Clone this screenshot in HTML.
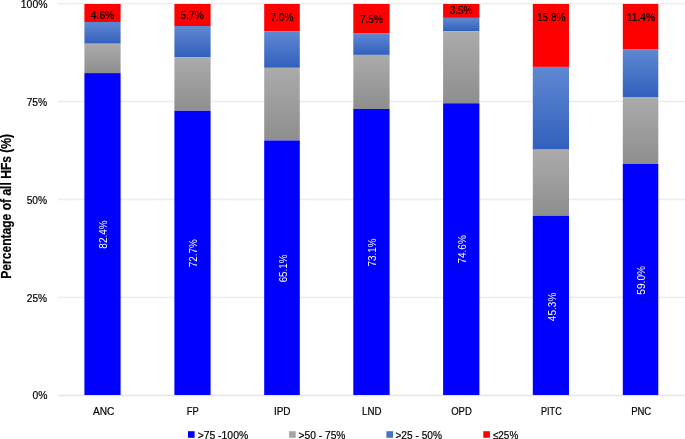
<!DOCTYPE html>
<html><head><meta charset="utf-8"><style>
html,body{margin:0;padding:0;background:#fff;width:685px;height:439px;overflow:hidden}
svg{display:block;will-change:transform}
text{font-family:"Liberation Sans",sans-serif}
</style></head><body>
<svg width="685" height="439" viewBox="0 0 685 439">
<defs>
<linearGradient id="gg" x1="0" y1="0" x2="0" y2="1"><stop offset="0" stop-color="#ababab"/><stop offset="1" stop-color="#8e8e8e"/></linearGradient>
<linearGradient id="bg" x1="0" y1="0" x2="0" y2="1"><stop offset="0" stop-color="#6088d2"/><stop offset="1" stop-color="#3160bd"/></linearGradient>
</defs>
<rect width="685" height="439" fill="#fff"/>
<rect x="57.9" y="2.95" width="627.1" height="1.5" fill="#eaebf0"/>
<rect x="57.9" y="100.70" width="627.1" height="1.5" fill="#eaebf0"/>
<rect x="57.9" y="198.70" width="627.1" height="1.5" fill="#eaebf0"/>
<rect x="57.9" y="296.70" width="627.1" height="1.5" fill="#eaebf0"/>
<rect x="57.9" y="394.75" width="627.1" height="1.5" fill="#e2e4e8"/>
<rect x="84.40" y="4.0" width="36.20" height="18.00" fill="#ff0000"/>
<rect x="84.40" y="22.0" width="36.20" height="21.70" fill="url(#bg)"/>
<rect x="84.40" y="43.7" width="36.20" height="29.40" fill="url(#gg)"/>
<rect x="84.40" y="73.1" width="36.20" height="321.90" fill="#0000ff"/>
<rect x="174.40" y="4.0" width="36.20" height="22.00" fill="#ff0000"/>
<rect x="174.40" y="26.0" width="36.20" height="31.10" fill="url(#bg)"/>
<rect x="174.40" y="57.1" width="36.20" height="53.70" fill="url(#gg)"/>
<rect x="174.40" y="110.8" width="36.20" height="284.20" fill="#0000ff"/>
<rect x="264.20" y="4.0" width="35.60" height="27.30" fill="#ff0000"/>
<rect x="264.20" y="31.3" width="35.60" height="36.50" fill="url(#bg)"/>
<rect x="264.20" y="67.8" width="35.60" height="72.70" fill="url(#gg)"/>
<rect x="264.20" y="140.5" width="35.60" height="254.50" fill="#0000ff"/>
<rect x="353.30" y="4.0" width="36.30" height="29.10" fill="#ff0000"/>
<rect x="353.30" y="33.1" width="36.30" height="21.80" fill="url(#bg)"/>
<rect x="353.30" y="54.9" width="36.30" height="54.10" fill="url(#gg)"/>
<rect x="353.30" y="109.0" width="36.30" height="286.00" fill="#0000ff"/>
<rect x="443.10" y="4.0" width="36.30" height="13.90" fill="#ff0000"/>
<rect x="443.10" y="17.9" width="36.30" height="13.35" fill="url(#bg)"/>
<rect x="443.10" y="31.25" width="36.30" height="72.05" fill="url(#gg)"/>
<rect x="443.10" y="103.3" width="36.30" height="291.70" fill="#0000ff"/>
<rect x="532.80" y="4.0" width="36.20" height="62.90" fill="#ff0000"/>
<rect x="532.80" y="66.9" width="36.20" height="82.70" fill="url(#bg)"/>
<rect x="532.80" y="149.6" width="36.20" height="66.20" fill="url(#gg)"/>
<rect x="532.80" y="215.8" width="36.20" height="179.20" fill="#0000ff"/>
<rect x="622.80" y="4.0" width="35.50" height="45.10" fill="#ff0000"/>
<rect x="622.80" y="49.1" width="35.50" height="47.90" fill="url(#bg)"/>
<rect x="622.80" y="97.0" width="35.50" height="67.00" fill="url(#gg)"/>
<rect x="622.80" y="164.0" width="35.50" height="231.00" fill="#0000ff"/>
<text x="20.79" y="8.00" font-size="11.229" font-weight="400" fill="#000" stroke="#000" stroke-width="0.2" textLength="26.68" lengthAdjust="spacingAndGlyphs">100%</text>
<text x="26.63" y="106.00" font-size="11.229" font-weight="400" fill="#000" stroke="#000" stroke-width="0.2" textLength="20.53" lengthAdjust="spacingAndGlyphs">75%</text>
<text x="26.64" y="204.00" font-size="11.229" font-weight="400" fill="#000" stroke="#000" stroke-width="0.2" textLength="20.42" lengthAdjust="spacingAndGlyphs">50%</text>
<text x="26.84" y="302.00" font-size="11.229" font-weight="400" fill="#000" stroke="#000" stroke-width="0.2" textLength="20.22" lengthAdjust="spacingAndGlyphs">25%</text>
<text x="32.43" y="399.00" font-size="11.229" font-weight="400" fill="#000" stroke="#000" stroke-width="0.2" textLength="14.95" lengthAdjust="spacingAndGlyphs">0%</text>
<text x="92.90" y="415.00" font-size="10.939" font-weight="400" fill="#000" stroke="#000" stroke-width="0.2" textLength="21.34" lengthAdjust="spacingAndGlyphs">ANC</text>
<text x="186.84" y="415.00" font-size="10.939" font-weight="400" fill="#000" stroke="#000" stroke-width="0.2" textLength="12.04" lengthAdjust="spacingAndGlyphs">FP</text>
<text x="273.89" y="415.00" font-size="10.939" font-weight="400" fill="#000" stroke="#000" stroke-width="0.2" textLength="16.65" lengthAdjust="spacingAndGlyphs">IPD</text>
<text x="362.11" y="415.00" font-size="10.939" font-weight="400" fill="#000" stroke="#000" stroke-width="0.2" textLength="19.55" lengthAdjust="spacingAndGlyphs">LND</text>
<text x="451.17" y="415.00" font-size="10.939" font-weight="400" fill="#000" stroke="#000" stroke-width="0.2" textLength="20.65" lengthAdjust="spacingAndGlyphs">OPD</text>
<text x="541.08" y="415.00" font-size="10.939" font-weight="400" fill="#000" stroke="#000" stroke-width="0.2" textLength="20.58" lengthAdjust="spacingAndGlyphs">PITC</text>
<text x="631.14" y="415.00" font-size="10.939" font-weight="400" fill="#000" stroke="#000" stroke-width="0.2" textLength="20.08" lengthAdjust="spacingAndGlyphs">PNC</text>
<text x="90.87" y="19.00" font-size="11.214" font-weight="400" fill="#000" stroke="#000" stroke-width="0.2" textLength="23.34" lengthAdjust="spacingAndGlyphs">4.6%</text>
<text x="180.54" y="19.00" font-size="11.214" font-weight="400" fill="#000" stroke="#000" stroke-width="0.2" textLength="23.27" lengthAdjust="spacingAndGlyphs">5.7%</text>
<text x="270.44" y="21.00" font-size="11.214" font-weight="400" fill="#000" stroke="#000" stroke-width="0.2" textLength="22.96" lengthAdjust="spacingAndGlyphs">7.0%</text>
<text x="359.94" y="23.00" font-size="11.214" font-weight="400" fill="#000" stroke="#000" stroke-width="0.2" textLength="22.96" lengthAdjust="spacingAndGlyphs">7.5%</text>
<text x="449.64" y="14.00" font-size="11.214" font-weight="400" fill="#000" stroke="#000" stroke-width="0.2" textLength="22.96" lengthAdjust="spacingAndGlyphs">3.5%</text>
<text x="536.91" y="21.00" font-size="11.214" font-weight="400" fill="#000" stroke="#000" stroke-width="0.2" textLength="28.71" lengthAdjust="spacingAndGlyphs">15.8%</text>
<text x="626.70" y="21.00" font-size="11.214" font-weight="400" fill="#000" stroke="#000" stroke-width="0.2" textLength="28.35" lengthAdjust="spacingAndGlyphs">11.4%</text>
<text transform="rotate(-90)" x="-248.65" y="107.23" font-size="11.389" font-weight="400" fill="#fff" stroke="#fff" stroke-width="0.0" textLength="28.16" lengthAdjust="spacingAndGlyphs">82.4%</text>
<text transform="rotate(-90)" x="-267.15" y="196.81" font-size="11.389" font-weight="400" fill="#fff" stroke="#fff" stroke-width="0.0" textLength="27.85" lengthAdjust="spacingAndGlyphs">72.7%</text>
<text transform="rotate(-90)" x="-282.34" y="287.01" font-size="11.389" font-weight="400" fill="#fff" stroke="#fff" stroke-width="0.0" textLength="27.75" lengthAdjust="spacingAndGlyphs">65.1%</text>
<text transform="rotate(-90)" x="-266.55" y="376.26" font-size="11.389" font-weight="400" fill="#fff" stroke="#fff" stroke-width="0.0" textLength="28.06" lengthAdjust="spacingAndGlyphs">73.1%</text>
<text transform="rotate(-90)" x="-263.55" y="465.71" font-size="11.389" font-weight="400" fill="#fff" stroke="#fff" stroke-width="0.0" textLength="28.37" lengthAdjust="spacingAndGlyphs">74.6%</text>
<text transform="rotate(-90)" x="-321.13" y="555.58" font-size="11.389" font-weight="400" fill="#fff" stroke="#fff" stroke-width="0.0" textLength="28.44" lengthAdjust="spacingAndGlyphs">45.3%</text>
<text transform="rotate(-90)" x="-294.66" y="645.26" font-size="11.389" font-weight="400" fill="#fff" stroke="#fff" stroke-width="0.0" textLength="28.68" lengthAdjust="spacingAndGlyphs">59.0%</text>
<text transform="rotate(-90)" x="-278.76" y="10.90" font-size="14.000" font-weight="700" fill="#000" stroke="#000" stroke-width="0.2" textLength="144.85" lengthAdjust="spacingAndGlyphs">Percentage of all HFs (%)</text>
<text x="197.63" y="439.00" font-size="11.071" font-weight="400" fill="#000" stroke="#000" stroke-width="0.2" textLength="50.52" lengthAdjust="spacingAndGlyphs">&gt;75 -100%</text>
<text x="298.43" y="439.00" font-size="11.071" font-weight="400" fill="#000" stroke="#000" stroke-width="0.2" textLength="47.09" lengthAdjust="spacingAndGlyphs">&gt;50 - 75%</text>
<text x="395.44" y="439.00" font-size="11.071" font-weight="400" fill="#000" stroke="#000" stroke-width="0.2" textLength="46.58" lengthAdjust="spacingAndGlyphs">&gt;25 - 50%</text>
<text x="492.87" y="439.00" font-size="11.071" font-weight="400" fill="#000" stroke="#000" stroke-width="0.2" textLength="25.41" lengthAdjust="spacingAndGlyphs">≤25%</text>
<rect x="188.0" y="431.2" width="6.6" height="6.6" fill="#0000ff"/>
<rect x="289.1" y="431.2" width="6.6" height="6.6" fill="#a5a5a5"/>
<rect x="386.4" y="431.2" width="6.6" height="6.6" fill="#4472c4"/>
<rect x="483.3" y="431.2" width="6.6" height="6.6" fill="#ff0000"/>
</svg></body></html>
